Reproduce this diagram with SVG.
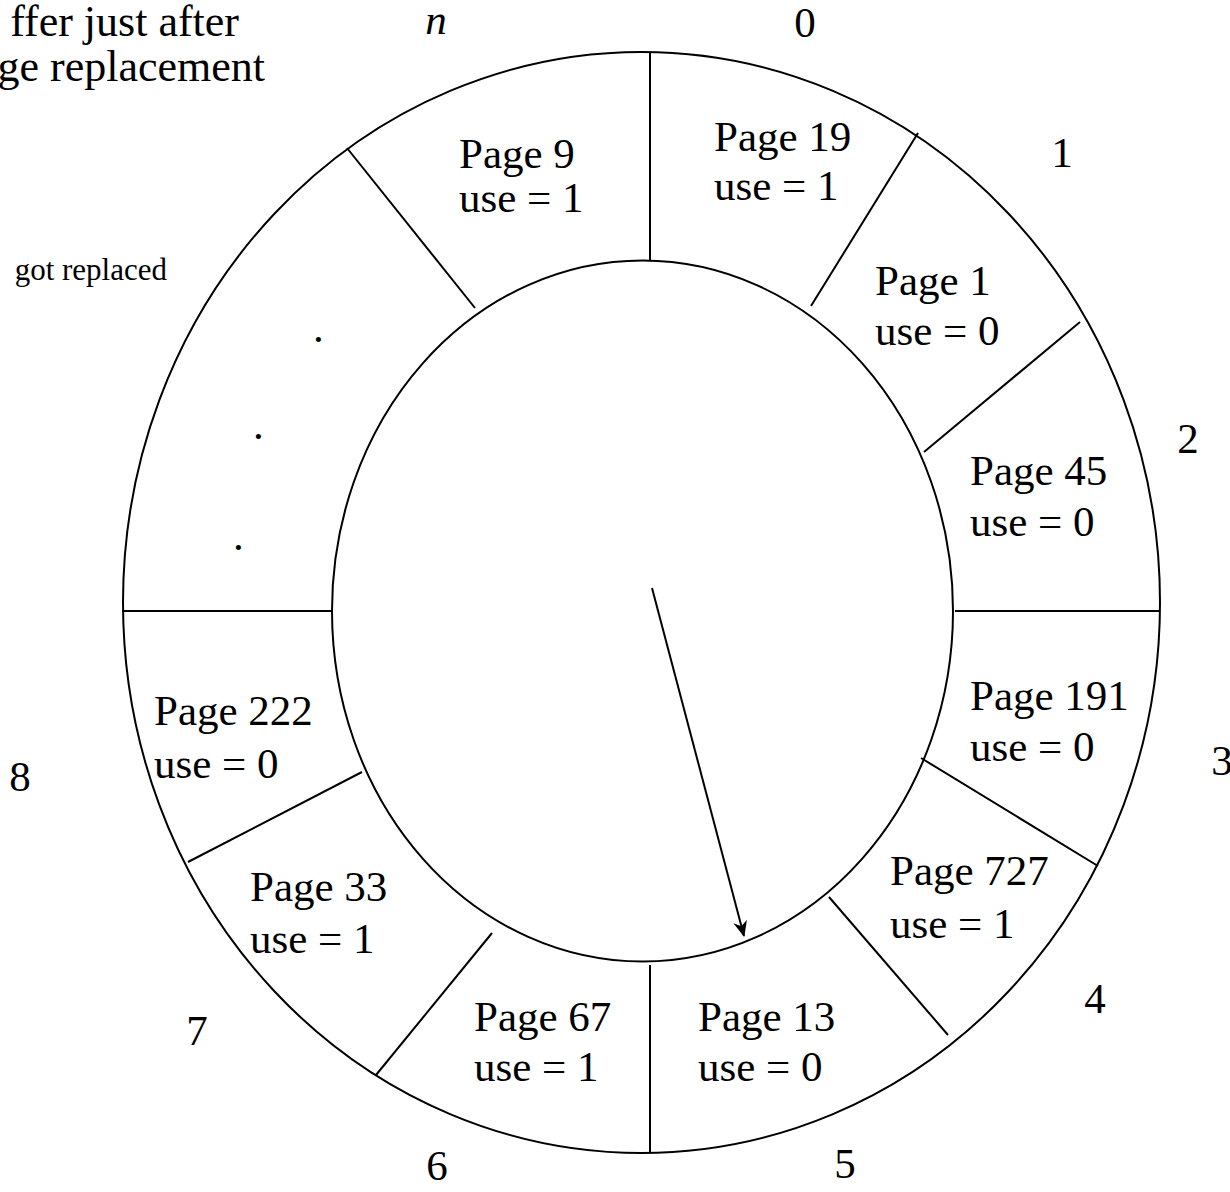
<svg xmlns="http://www.w3.org/2000/svg" width="1230" height="1192" viewBox="0 0 1230 1192">
  <style>
    text { font-family: "Liberation Serif", "Times New Roman", serif; fill: #000; }
    .pg { font-size: 43px; }
    .idx { font-size: 43px; text-anchor: middle; }
    .cap { font-size: 44px; text-anchor: end; }
    .note { font-size: 31px; text-anchor: end; }
    .ring { fill: none; stroke: #000; stroke-width: 2; }
    .div { stroke: #000; stroke-width: 2; }
    .ptr { stroke: #000; stroke-width: 2; fill: none; }
  </style>
  <defs>
    <marker id="head" viewBox="0 0 16 14" refX="15" refY="7" markerWidth="16" markerHeight="14" markerUnits="userSpaceOnUse" orient="auto">
      <path d="M0,0 L16,7 L0,14 L5,7 Z" fill="#000"/>
    </marker>
  </defs>
  <rect width="1230" height="1192" fill="#fff"/>

  <!-- caption text, running off the left edge -->
  <g id="caption">
    <text class="cap" x="239" y="36">ffer just after</text>
    <text class="cap" x="265" y="81">ge replacement</text>
    <text class="note" x="167" y="280">got replaced</text>
  </g>

  <!-- circular buffer: outer and inner rims plus slot dividers -->
  <g id="ring">
    <ellipse class="ring" cx="641.5" cy="602.5" rx="518.5" ry="550.5"/>
    <ellipse class="ring" cx="642.5" cy="611" rx="310.5" ry="350.5" fill="#fff"/>
    <line class="div" x1="650" y1="52" x2="650" y2="261"/>
    <line class="div" x1="918" y1="133" x2="811" y2="306"/>
    <line class="div" x1="1080" y1="322" x2="924" y2="452"/>
    <line class="div" x1="1160" y1="611" x2="955" y2="611"/>
    <line class="div" x1="1098" y1="866" x2="921" y2="758"/>
    <line class="div" x1="948" y1="1035" x2="829" y2="897"/>
    <line class="div" x1="650" y1="965" x2="650" y2="1153"/>
    <line class="div" x1="376" y1="1075" x2="492" y2="933"/>
    <line class="div" x1="188" y1="862" x2="362" y2="772"/>
    <line class="div" x1="122" y1="611" x2="331" y2="611"/>
    <line class="div" x1="347" y1="148" x2="475" y2="308"/>
  </g>

  <!-- frame slots -->
  <g id="slot-0"><text class="pg" x="714" y="151">Page 19</text><text class="pg" x="714" y="200">use = 1</text></g>
  <g id="slot-1"><text class="pg" x="875" y="295">Page 1</text><text class="pg" x="875" y="345">use = 0</text></g>
  <g id="slot-2"><text class="pg" x="970" y="485">Page 45</text><text class="pg" x="970" y="536">use = 0</text></g>
  <g id="slot-3"><text class="pg" x="970" y="710">Page 191</text><text class="pg" x="970" y="761">use = 0</text></g>
  <g id="slot-4"><text class="pg" x="890" y="885">Page 727</text><text class="pg" x="890" y="938">use = 1</text></g>
  <g id="slot-5"><text class="pg" x="698" y="1031">Page 13</text><text class="pg" x="698" y="1081">use = 0</text></g>
  <g id="slot-6"><text class="pg" x="474" y="1031">Page 67</text><text class="pg" x="474" y="1081">use = 1</text></g>
  <g id="slot-7"><text class="pg" x="250" y="901">Page 33</text><text class="pg" x="250" y="953">use = 1</text></g>
  <g id="slot-8"><text class="pg" x="154" y="725">Page 222</text><text class="pg" x="154" y="778">use = 0</text></g>
  <g id="slot-n"><text class="pg" x="459" y="168">Page 9</text><text class="pg" x="459" y="212">use = 1</text></g>
  <g id="slot-gap">
    <text class="pg" x="313" y="342">.</text>
    <text class="pg" x="253" y="439">.</text>
    <text class="pg" x="233" y="550">.</text>
  </g>

  <!-- slot indices around the rim -->
  <g id="indices">
    <text class="idx" x="805" y="37">0</text>
    <text class="idx" x="1062" y="167">1</text>
    <text class="idx" x="1188" y="453">2</text>
    <text class="idx" x="1222" y="775">3</text>
    <text class="idx" x="1095" y="1013">4</text>
    <text class="idx" x="845" y="1178">5</text>
    <text class="idx" x="437" y="1180">6</text>
    <text class="idx" x="197" y="1045">7</text>
    <text class="idx" x="20" y="791">8</text>
    <text class="idx" x="436" y="34" font-style="italic">n</text>
  </g>

  <!-- next-frame pointer -->
  <g id="connectors">
    <line class="ptr" x1="652" y1="588" x2="744" y2="936" marker-end="url(#head)"/>
  </g>
</svg>
